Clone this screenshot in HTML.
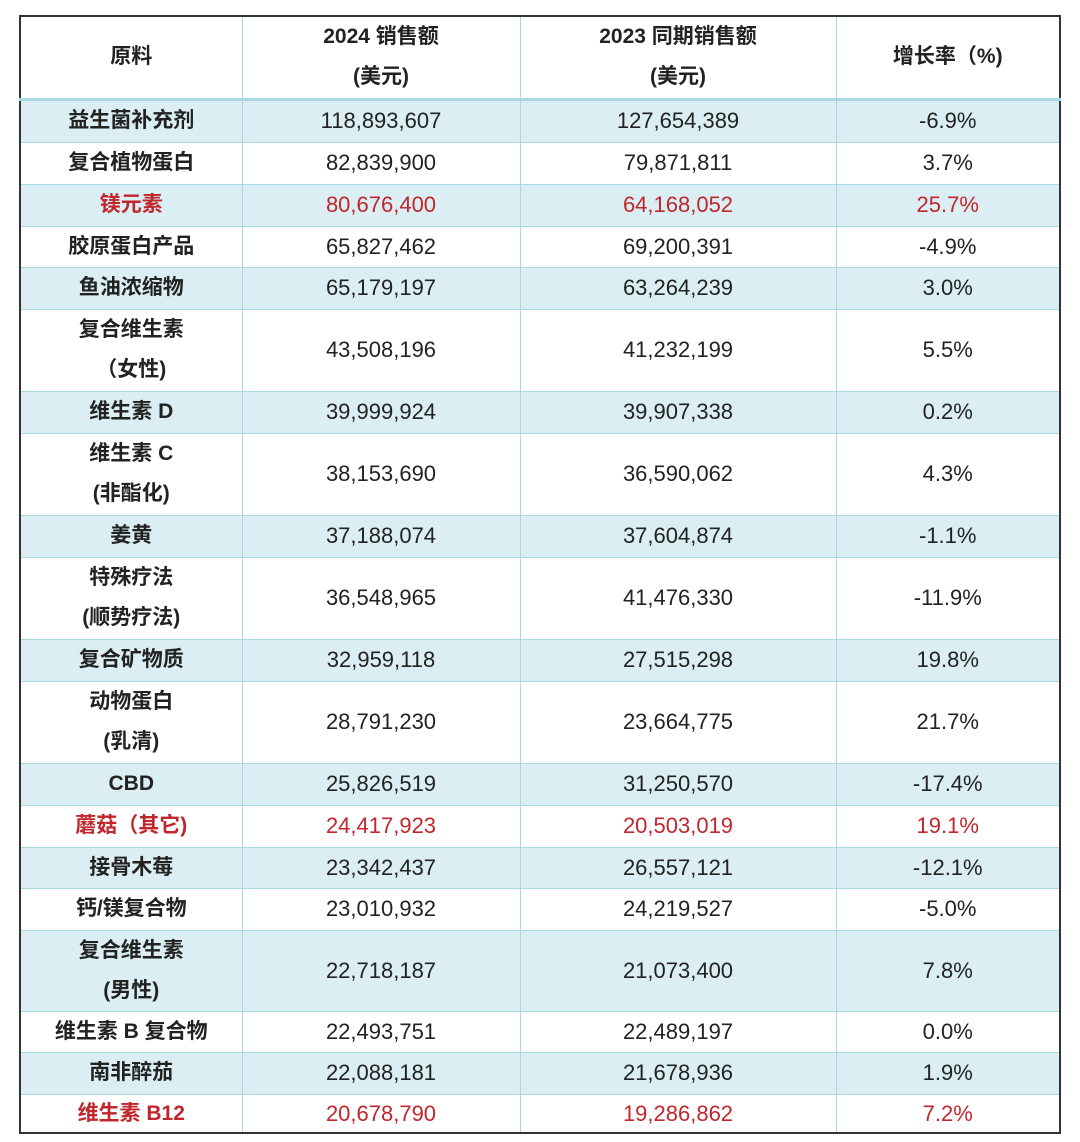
<!DOCTYPE html>
<html><head><meta charset="utf-8"><style>
body{margin:0;width:1080px;height:1142px;background:#fff;overflow:hidden}
table{position:absolute;left:19px;top:15px;width:1040px;border-collapse:collapse;border:2px solid #333;table-layout:fixed;font-family:"Liberation Sans","Noto Sans CJK SC",sans-serif;color:#222}
td{border:1.5px solid #a8d8e4;text-align:center;padding:0;font-size:22px;line-height:40px}
td:first-child{font-weight:bold;font-size:21px}
tr.b td{background:#daeef3}
tr.h td{font-weight:bold;font-size:21px;border-bottom:3px solid #a8d8e4}
tr.r td{color:#c0262b}
</style></head><body>
<table>
<colgroup><col style="width:222px"><col style="width:278px"><col style="width:316px"><col style="width:224px"></colgroup>
<tr class="h" style="height:83px"><td>原料</td><td>2024 销售额<br>(美元)</td><td>2023 同期销售额<br>(美元)</td><td>增长率（%)</td></tr>
<tr class="b" style="height:43px"><td>益生菌补充剂</td><td>118,893,607</td><td>127,654,389</td><td>-6.9%</td></tr>
<tr style="height:42px"><td>复合植物蛋白</td><td>82,839,900</td><td>79,871,811</td><td>3.7%</td></tr>
<tr class="b r" style="height:42px"><td>镁元素</td><td>80,676,400</td><td>64,168,052</td><td>25.7%</td></tr>
<tr style="height:40px"><td>胶原蛋白产品</td><td>65,827,462</td><td>69,200,391</td><td>-4.9%</td></tr>
<tr class="b" style="height:42px"><td>鱼油浓缩物</td><td>65,179,197</td><td>63,264,239</td><td>3.0%</td></tr>
<tr style="height:82px"><td>复合维生素<br>（女性)</td><td>43,508,196</td><td>41,232,199</td><td>5.5%</td></tr>
<tr class="b" style="height:42px"><td>维生素 D</td><td>39,999,924</td><td>39,907,338</td><td>0.2%</td></tr>
<tr style="height:82px"><td>维生素 C<br>(非酯化)</td><td>38,153,690</td><td>36,590,062</td><td>4.3%</td></tr>
<tr class="b" style="height:42px"><td>姜黄</td><td>37,188,074</td><td>37,604,874</td><td>-1.1%</td></tr>
<tr style="height:82px"><td>特殊疗法<br>(顺势疗法)</td><td>36,548,965</td><td>41,476,330</td><td>-11.9%</td></tr>
<tr class="b" style="height:42px"><td>复合矿物质</td><td>32,959,118</td><td>27,515,298</td><td>19.8%</td></tr>
<tr style="height:82px"><td>动物蛋白<br>(乳清)</td><td>28,791,230</td><td>23,664,775</td><td>21.7%</td></tr>
<tr class="b" style="height:42px"><td>CBD</td><td>25,826,519</td><td>31,250,570</td><td>-17.4%</td></tr>
<tr class="r" style="height:42px"><td>蘑菇（其它)</td><td>24,417,923</td><td>20,503,019</td><td>19.1%</td></tr>
<tr class="b" style="height:40px"><td>接骨木莓</td><td>23,342,437</td><td>26,557,121</td><td>-12.1%</td></tr>
<tr style="height:42px"><td>钙/镁复合物</td><td>23,010,932</td><td>24,219,527</td><td>-5.0%</td></tr>
<tr class="b" style="height:81px"><td>复合维生素<br>(男性)</td><td>22,718,187</td><td>21,073,400</td><td>7.8%</td></tr>
<tr style="height:41px"><td>维生素 B 复合物</td><td>22,493,751</td><td>22,489,197</td><td>0.0%</td></tr>
<tr class="b" style="height:42px"><td>南非醉茄</td><td>22,088,181</td><td>21,678,936</td><td>1.9%</td></tr>
<tr class="r" style="height:39px"><td style="line-height:37px">维生素 B12</td><td style="line-height:37px">20,678,790</td><td style="line-height:37px">19,286,862</td><td style="line-height:37px">7.2%</td></tr>
</table>
</body></html>
